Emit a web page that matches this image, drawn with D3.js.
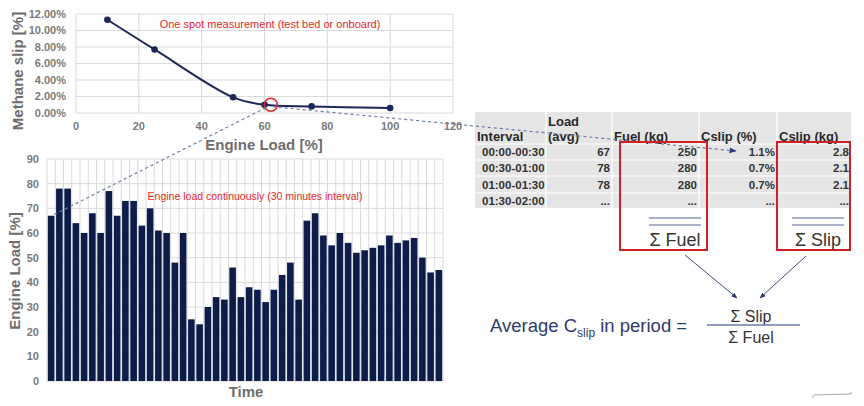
<!DOCTYPE html>
<html><head><meta charset="utf-8">
<script src="https://cdn.jsdelivr.net/npm/d3@7"></script>
<style>body{margin:0;background:#fff}svg{display:block;font-family:"Liberation Sans",Arial,sans-serif}</style>
</head><body>
<svg id="c" width="864" height="406"></svg>
<script>
// ---- data ----
const slipLoad = [10, 25, 50, 60, 75, 100];
const slipPct = [11.3, 7.7, 1.9, 1.0, 0.8, 0.6];
const slipXTicks = [0, 20, 40, 60, 80, 100, 120];
const slipYTicks = [0, 2, 4, 6, 8, 10, 12];
const spotLoad = 62, spotSlip = 1.0;

const engineLoad = [67,78,78,64,60,68,60,77,67,73,73,63,70,61,60,48,60,25,23,30,34,33,46,34,38,37,32,37,43,48,33,65,68,59,55,60,56,52,53,54,55,59,56,57,58,50,44,45];
const loadYTicks = [0,10,20,30,40,50,60,70,80,90];

const tblHeaders = [["Interval"],["Load","(avg)"],["Fuel (kg)"],["Cslip (%)"],["Cslip (kg)"]];
const tblInterval = ["00:00-00:30","00:30-01:00","01:00-01:30","01:30-02:00"];
const tblLoad = ["67","78","78","..."];
const tblFuel = ["250","280","280","..."];
const tblCslipPct = ["1.1%","0.7%","0.7%","..."];
const tblCslipKg = ["2.8","2.1","2.1","..."];

const svg = d3.select("#c");
const navy = "#1b2756", grid = "#dadada", axisGray = "#7a7a7a", red = "#e8262b";

// defs
const defs = svg.append("defs");
defs.append("marker").attr("id","ah").attr("viewBox","0 0 10 10").attr("refX",9).attr("refY",5)
  .attr("markerWidth",6).attr("markerHeight",6).attr("orient","auto")
  .append("path").attr("d","M0,1 L10,5 L0,9 z").attr("fill","#2b3a70");

// ---------- top chart ----------
const xT = d3.scaleLinear().domain([0,120]).range([76,453]);
const yT = d3.scaleLinear().domain([0,12]).range([113,14]);
const topG = svg.append("g");
topG.selectAll(".gv").data(slipXTicks).join("line").attr("x1",d=>xT(d)).attr("x2",d=>xT(d)).attr("y1",yT(12)).attr("y2",yT(0)).attr("stroke",grid);
topG.selectAll(".gh").data(slipYTicks).join("line").attr("x1",xT(0)).attr("x2",xT(120)).attr("y1",d=>yT(d)).attr("y2",d=>yT(d)).attr("stroke",grid);
topG.selectAll(".yl").data(slipYTicks).join("text").attr("x",66).attr("y",d=>yT(d)).attr("dy","0.35em").attr("text-anchor","end")
  .attr("font-size",11).attr("font-weight","bold").attr("fill",axisGray).text(d=>d.toFixed(2)+"%");
topG.selectAll(".xl").data(slipXTicks).join("text").attr("x",d=>xT(d)).attr("y",126).attr("dy","0.35em").attr("text-anchor","middle")
  .attr("font-size",11).attr("font-weight","bold").attr("fill",axisGray).text(d=>d);
topG.append("text").attr("transform","translate(23,71) rotate(-90)").attr("text-anchor","middle").attr("font-size",15).attr("font-weight","bold").attr("fill","#6e6e6e").text("Methane slip [%]");
topG.append("text").attr("x",264).attr("y",150).attr("text-anchor","middle").attr("font-size",15).attr("font-weight","bold").attr("fill","#6e6e6e").text("Engine Load [%]");
topG.append("text").attr("x",270).attr("y",28).attr("text-anchor","middle").attr("font-size",11).attr("fill",red).text("One spot measurement (test bed or onboard)");

// ---------- bottom chart ----------
const xB = d3.scaleBand().domain(d3.range(engineLoad.length)).range([47,443]).paddingInner(0.2).paddingOuter(0.1);
const yB = d3.scaleLinear().domain([0,90]).range([381,159]);
const botG = svg.append("g");
const step = xB.step();
botG.selectAll(".bv").data(d3.range(engineLoad.length+1)).join("line")
  .attr("x1",i=>xB.range()[0]+i*step).attr("x2",i=>xB.range()[0]+i*step).attr("y1",yB(90)).attr("y2",yB(0)).attr("stroke",grid);
botG.selectAll(".bh").data(loadYTicks).join("line").attr("x1",xB.range()[0]).attr("x2",xB.range()[1]).attr("y1",d=>yB(d)).attr("y2",d=>yB(d)).attr("stroke",grid);
botG.selectAll(".bar").data(engineLoad).join("rect").attr("x",(d,i)=>xB(i)).attr("width",xB.bandwidth())
  .attr("y",d=>yB(d)).attr("height",d=>yB(0)-yB(d)).attr("fill","#0e1c4a");
botG.selectAll(".byl").data(loadYTicks).join("text").attr("x",39).attr("y",d=>yB(d)).attr("dy","0.35em").attr("text-anchor","end")
  .attr("font-size",11).attr("font-weight","bold").attr("fill",axisGray).text(d=>d);
botG.append("text").attr("transform","translate(20,271) rotate(-90)").attr("text-anchor","middle").attr("font-size",15).attr("font-weight","bold").attr("fill","#6e6e6e").text("Engine Load [%]");
botG.append("text").attr("x",246).attr("y",397).attr("text-anchor","middle").attr("font-size",15).attr("font-weight","bold").attr("fill","#6e6e6e").text("Time");
botG.append("text").attr("x",255).attr("y",200).attr("text-anchor","middle").attr("font-size",10.5).attr("fill",red).text("Engine load continuously (30 minutes interval)");

// ---------- table ----------
const colX = [475,546,612,699,777,851];
const rowY = [112,144,160,176,193,208];
const tbl = svg.append("g");
tbl.append("rect").attr("x",colX[0]).attr("y",rowY[0]).attr("width",colX[5]-colX[0]).attr("height",rowY[5]-rowY[0]).attr("fill","#e5e5e5");
tbl.selectAll(".cs").data(colX.slice(1,5)).join("line").attr("x1",d=>d).attr("x2",d=>d).attr("y1",rowY[0]).attr("y2",rowY[5]).attr("stroke","#fff").attr("stroke-width",1.2);
tbl.selectAll(".rs").data(rowY.slice(1,5)).join("line").attr("x1",colX[0]).attr("x2",colX[5]).attr("y1",d=>d).attr("y2",d=>d).attr("stroke","#fff").attr("stroke-width",1.2);
tblHeaders.forEach((h,ci)=>{
  h.forEach((t,li)=>{
    tbl.append("text").attr("x",colX[ci]+2).attr("y",h.length===2?(li===0?126:141):141)
      .attr("font-size",13).attr("font-weight","bold").attr("fill","#2a2a2a").text(t);
  });
});
const cols = [tblInterval,tblLoad,tblFuel,tblCslipPct,tblCslipKg];
cols.forEach((col,ci)=>{
  col.forEach((t,ri)=>{
    const cy = (rowY[ri+1]+rowY[ri+2])/2;
    const isFirst = ci===0;
    tbl.append("text").attr("x",isFirst?colX[0]+7:colX[ci+1]-2).attr("y",cy).attr("dy","0.36em")
      .attr("text-anchor",isFirst?"start":"end").attr("font-size",11.5).attr("font-weight","bold").attr("fill","#333").text(t);
  });
});

// dashed connectors
const conn = svg.append("g").attr("stroke","#6d7bab").attr("stroke-width",1.2).attr("stroke-dasharray","3,3").attr("fill","none");
conn.append("line").attr("x1",xT(spotLoad)-5).attr("y1",yT(spotSlip)+3).attr("x2",xB(0)+4).attr("y2",yB(engineLoad[0]));
conn.append("line").attr("x1",xT(spotLoad)+2).attr("y1",yT(spotSlip)+2).attr("x2",736).attr("y2",151).attr("marker-end","url(#ah)");

// top chart line over connectors
topG.append("path").datum(slipLoad.map((d,i)=>[d,slipPct[i]])).attr("d",d3.line().x(d=>xT(d[0])).y(d=>yT(d[1])).curve(d3.curveCatmullRom.alpha(0.5)))
  .attr("fill","none").attr("stroke",navy).attr("stroke-width",2);
topG.selectAll(".pt").data(slipLoad).join("circle").attr("cx",d=>xT(d)).attr("cy",(d,i)=>yT(slipPct[i])).attr("r",3.3).attr("fill",navy);
topG.append("circle").attr("cx",xT(spotLoad)).attr("cy",yT(spotSlip)).attr("r",6.5).attr("fill","none").attr("stroke",red).attr("stroke-width",1.5);

// red boxes + sums
const boxes = [{x:620,w:87,label:"Σ Fuel"},{x:777,w:73,label:"Σ Slip"}];
boxes.forEach(b=>{
  svg.append("rect").attr("x",b.x).attr("y",142).attr("width",b.w).attr("height",108).attr("fill","none").attr("stroke","#d01f25").attr("stroke-width",2);
  const lx1 = b.x+b.w-58, lx2 = b.x+b.w-6;
  [218,225].forEach(y=>svg.append("line").attr("x1",lx1).attr("x2",lx2).attr("y1",y).attr("y2",y).attr("stroke","#8e97bb").attr("stroke-width",1.5));
  svg.append("text").attr("x",(lx1+lx2)/2).attr("y",246).attr("text-anchor","middle").attr("font-size",18).attr("fill","#333").text(b.label);
});

// arrows to formula
const arr = svg.append("g").attr("stroke","#3b4a80").attr("stroke-width",1);
arr.append("line").attr("x1",685).attr("y1",255).attr("x2",737).attr("y2",298).attr("marker-end","url(#ah)");
arr.append("line").attr("x1",806).attr("y1",256).attr("x2",760).attr("y2",298).attr("marker-end","url(#ah)");

// formula
const f = svg.append("text").attr("x",490).attr("y",332).attr("font-size",18.5).attr("fill","#2f3b6b");
f.append("tspan").text("Average C");
f.append("tspan").attr("font-size",12).attr("dy",5).text("slip");
f.append("tspan").attr("dy",-5).text(" in period =");
svg.append("text").attr("x",751).attr("y",322).attr("text-anchor","middle").attr("font-size",16).attr("fill","#333").text("Σ Slip");
svg.append("line").attr("x1",707).attr("x2",800).attr("y1",325).attr("y2",325).attr("stroke","#6d7bab").attr("stroke-width",1.3);
svg.append("text").attr("x",751).attr("y",343).attr("text-anchor","middle").attr("font-size",16).attr("fill","#333").text("Σ Fuel");

// small corner mark
svg.append("path").attr("d","M812,398 L814,395 L851,394 L851,392").attr("fill","none").attr("stroke","#aaa").attr("stroke-width",1);
</script>
</body></html>
